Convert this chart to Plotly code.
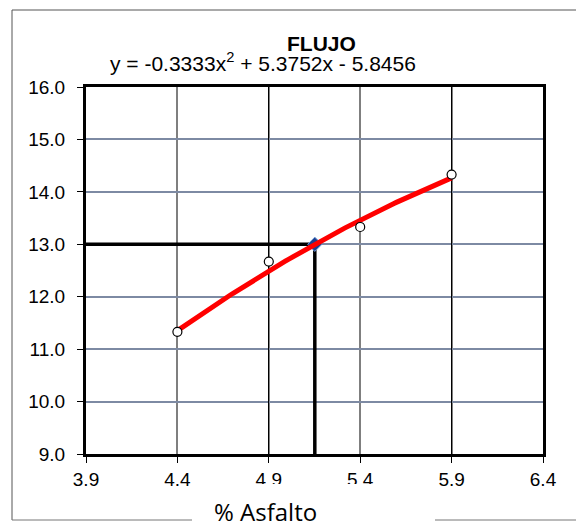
import numpy as np
import plotly.graph_objects as go

# Data
asfalto = [4.4, 4.9, 5.4, 5.9]
flujo = [11.33, 12.67, 13.33, 14.33]
trend_coef = [-0.3333, 5.3752, -5.8456]  # y = a x^2 + b x + c
target_flujo = 13.0
x_ticks = [3.9, 4.4, 4.9, 5.4, 5.9, 6.4]
x_dark_grid = [4.9, 5.9]
y_ticks = [9.0, 10.0, 11.0, 12.0, 13.0, 14.0, 15.0, 16.0]
title_text = "FLUJO"
equation_text = "y = -0.3333x<sup>2</sup> + 5.3752x - 5.8456"
x_label = "% Asfalto"

a, b, c = trend_coef
xs = np.linspace(min(asfalto), max(asfalto), 120)
ys = a * xs**2 + b * xs + c
roots = np.roots([a, b, c - target_flujo])
x_target = float(min(r.real for r in roots if min(asfalto) <= r.real <= max(asfalto)))

FONT = "Liberation Sans, Arial, sans-serif"

# layout geometry (page has 8px body offset)
OFF = 8
L, T, PW, PH = 78, 79, 457, 367
W, H = 584, 523


def px(xp):
    return (xp - OFF - L) / PW


def py(yp):
    return 1 - (yp - OFF - T) / PH


fig = go.Figure()
# reference lines
fig.add_trace(go.Scatter(x=[x_ticks[0], x_target], y=[target_flujo, target_flujo], mode="lines",
                         line=dict(color="black", width=3.5), showlegend=False, hoverinfo="skip"))
fig.add_trace(go.Scatter(x=[x_target, x_target], y=[target_flujo, y_ticks[0]], mode="lines",
                         line=dict(color="black", width=3.5), showlegend=False, hoverinfo="skip"))
# design point
fig.add_trace(go.Scatter(x=[x_target], y=[target_flujo], mode="markers",
                         marker=dict(symbol="diamond", size=11, color="#1f3f8f",
                                     line=dict(color="#6f9ad6", width=1)), showlegend=False))
# trendline
fig.add_trace(go.Scatter(x=xs, y=ys, mode="lines", line=dict(color="#ff0000", width=5),
                         showlegend=False))
# data points
fig.add_trace(go.Scatter(x=asfalto, y=flujo, mode="markers",
                         marker=dict(symbol="circle", size=9, color="white",
                                     line=dict(color="black", width=1.2)), showlegend=False))
# dummy trace for the overlay axis carrying the dark grid lines
fig.add_trace(go.Scatter(x=[x_ticks[0]], y=[y_ticks[0]], xaxis="x2", mode="markers",
                         marker=dict(opacity=0), showlegend=False, hoverinfo="skip"))

fig.update_layout(
    width=W, height=H,
    margin=dict(l=L, r=W - L - PW, t=T, b=H - T - PH),
    paper_bgcolor="white", plot_bgcolor="white",
    font=dict(family=FONT, color="black", size=19),
    xaxis=dict(range=[x_ticks[0], x_ticks[-1]], tickvals=x_ticks, tickformat=".1f",
               showgrid=True, gridcolor="#7f7f7f", gridwidth=1.5,
               showline=True, linecolor="black", linewidth=3, mirror=True,
               ticks="outside", ticklen=6, tickcolor="black", tickwidth=1,
               tickfont=dict(size=19), ticklabelstandoff=0, zeroline=False),
    xaxis2=dict(range=[x_ticks[0], x_ticks[-1]], overlaying="x", matches="x",
                tickvals=x_dark_grid, showticklabels=False, showgrid=True,
                gridcolor="black", gridwidth=1, showline=False, ticks="", zeroline=False),
    yaxis=dict(range=[y_ticks[0], y_ticks[-1]], tickvals=y_ticks, tickformat=".1f",
               showgrid=True, gridcolor="#7d8aa3", gridwidth=1.5,
               showline=True, linecolor="black", linewidth=3, mirror=True,
               ticks="outside", ticklen=6, tickcolor="black", tickwidth=1,
               tickfont=dict(size=19), ticklabelstandoff=8, zeroline=False),
    annotations=[
        dict(text="<b>" + title_text + "</b>", xref="paper", yref="paper",
             x=px(321), y=py(44), showarrow=False,
             font=dict(size=21, family=FONT), xanchor="center", yanchor="middle"),
        dict(text=equation_text, xref="paper", yref="paper",
             x=px(263), y=py(62), showarrow=False,
             font=dict(size=21, family=FONT), xanchor="center", yanchor="middle"),
        dict(text=x_label, xref="paper", yref="paper",
             x=px(265), y=py(512), showarrow=False,
             font=dict(size=24, family="Open Sans, sans-serif"), xanchor="center", yanchor="middle"),
    ],
    shapes=[
        # white box under x label (clips tick labels like the original)
        dict(type="rect", xref="paper", yref="paper", layer="above",
             x0=px(192), x1=px(435), y0=py(484), y1=py(540),
             fillcolor="white", line=dict(width=0)),
        # outer frame
        dict(type="line", xref="paper", yref="paper", x0=px(12), x1=px(12),
             y0=py(10), y1=py(520), line=dict(color="#555555", width=1)),
        dict(type="line", xref="paper", yref="paper", x0=px(12), x1=px(620),
             y0=py(10), y1=py(10), line=dict(color="#555555", width=1)),
        dict(type="line", xref="paper", yref="paper", x0=px(12), x1=px(192),
             y0=py(520), y1=py(520), line=dict(color="#777777", width=1)),
        dict(type="line", xref="paper", yref="paper", x0=px(435), x1=px(620),
             y0=py(520), y1=py(520), line=dict(color="#777777", width=1)),
    ],
)

fig.write_html("out.html")
